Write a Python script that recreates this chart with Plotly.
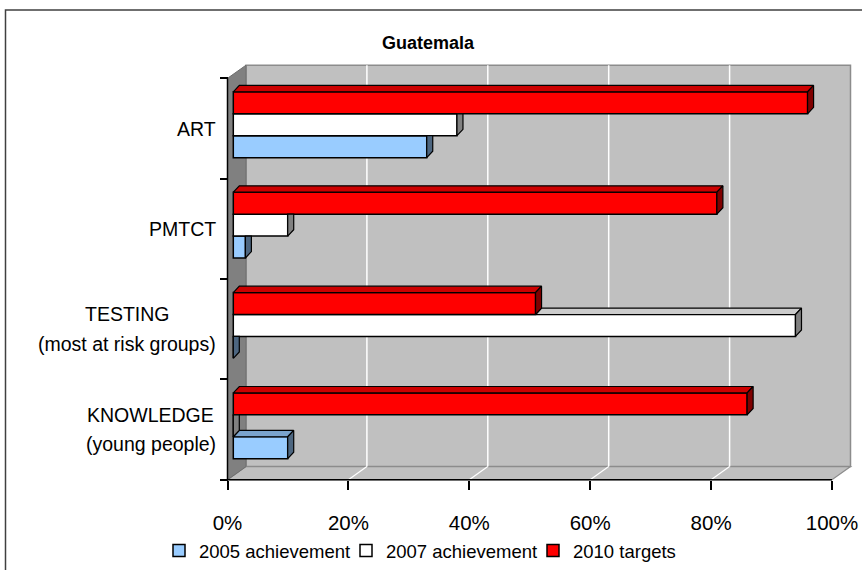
import plotly.graph_objects as go

# ---------------- data ----------------
categories = ["ART", "PMTCT", "TESTING<br>(most at risk groups)", "KNOWLEDGE<br>(young people)"]
series_names = ["2005 achievement", "2007 achievement", "2010 targets"]
achievement_2005 = [32, 2, 0, 9]
achievement_2007 = [37, 9, 93, 0]
targets_2010 = [95, 80, 50, 85]
x_tick_values = [0, 20, 40, 60, 80, 100]
x_tick_labels = ["0%", "20%", "40%", "60%", "80%", "100%"]
chart_title = "Guatemala"

series_values = [achievement_2005, achievement_2007, targets_2010]
front_colors = ["#99CCFF", "#FFFFFF", "#FF0000"]
top_colors = ["#7AA3CC", "#CCCCCC", "#CC0000"]
side_colors = ["#4D6680", "#808080", "#800000"]

# ---------------- geometry (pixel calibration of the 3-D frame) ----------------
W, H = 862, 570
X0, SX = 227.5, 6.045      # px of 0 % on the front plane, px per 1 %
YB, SY = 485.7, 101.6      # px of the front floor edge, px per category band


def px_x(p):
    return (p - X0) / SX


def px_y(p):
    return -0.5 + (YB - p) / SY


x_range = [px_x(0), px_x(W)]
y_range = [px_y(H), px_y(0)]

WDX, WDY = 18.5 / SX, 13.3 / SY      # wall depth
BDX, BDY = 6.0 / SX, 6.5 / SY        # bar depth
BASE = (233.3 - X0) / SX             # bars start slightly behind the front plane
BH = 22.2 / SY                       # bar thickness
GSHIFT = 3.8 / SY                    # group shift due to depth

n = len(categories)
pos = [n - 1 - i for i in range(n)]
offsets = [GSHIFT + (k - 1.5) * BH for k in range(3)]

FONT = "Arial, Liberation Sans, sans-serif"

fig = go.Figure()

# front faces as real bars
for k, (name, vals) in enumerate(zip(series_names, series_values)):
    fig.add_trace(go.Bar(
        y=pos, x=vals, base=BASE, orientation="h", name=name,
        width=BH, offset=offsets[k],
        marker=dict(color=front_colors[k], line=dict(color="black", width=1.5)),
        hoverinfo="skip",
    ))


def face(xs, ys, color):
    fig.add_trace(go.Scatter(
        x=xs + [xs[0]], y=ys + [ys[0]], mode="lines", fill="toself",
        fillcolor=color, line=dict(color="black", width=1.2),
        hoverinfo="skip", showlegend=False,
    ))


# 3-D top and side faces derived from the values
for k in range(3):
    for i in range(n):
        v = series_values[k][i]
        x0, x1 = BASE, BASE + v
        yb = pos[i] + offsets[k]
        yt = yb + BH
        upper = series_values[k + 1][i] if k < 2 else None
        # top face (visible part only)
        start = x0 if upper is None else max(x0, BASE + upper)
        if x1 > start:
            face([start, x1, x1 + BDX, start + BDX], [yt, yt, yt + BDY, yt + BDY], top_colors[k])
        # side face
        if upper is not None and upper > v:
            face([x1, x1, x1 + BDX, x1 + BDX], [yb, yt, yt, yb + BDY], side_colors[k])
        else:
            face([x1, x1, x1 + BDX, x1 + BDX], [yb, yt, yt + BDY, yb + BDY], side_colors[k])

# ---------------- walls, floor, grid ----------------
shapes = []
y_lo, y_hi = -0.5, n - 0.5
x_max = x_tick_values[-1]
# back wall
shapes.append(dict(type="rect", xref="x", yref="y", x0=WDX, x1=x_max + WDX,
                   y0=y_lo + WDY, y1=y_hi + WDY, fillcolor="#C0C0C0",
                   line=dict(color="#8C8C8C", width=1.5), layer="below"))
# floor
shapes.append(dict(type="path", xref="x", yref="y",
                   path=f"M 0,{y_lo} L {x_max},{y_lo} L {x_max + WDX},{y_lo + WDY} L {WDX},{y_lo + WDY} Z",
                   fillcolor="#C0C0C0", line=dict(color="#8C8C8C", width=1.2), layer="below"))
# left wall
shapes.append(dict(type="path", xref="x", yref="y",
                   path=f"M 0,{y_lo} L 0,{y_hi} L {WDX},{y_hi + WDY} L {WDX},{y_lo + WDY} Z",
                   fillcolor="#808080", line=dict(color="#6E6E6E", width=1), layer="below"))
# gridlines on back wall and floor
for v in x_tick_values[1:-1]:
    shapes.append(dict(type="line", xref="x", yref="y", x0=v + WDX, x1=v + WDX,
                       y0=y_lo + WDY, y1=y_hi + WDY, line=dict(color="white", width=1.5), layer="below"))
    shapes.append(dict(type="line", xref="x", yref="y", x0=v, x1=v + WDX,
                       y0=y_lo, y1=y_lo + WDY, line=dict(color="white", width=1.2), layer="below"))
# axis lines
shapes.append(dict(type="line", xref="x", yref="y", x0=0, x1=0, y0=y_lo, y1=y_hi,
                   line=dict(color="black", width=1.5), layer="below"))
shapes.append(dict(type="line", xref="x", yref="y", x0=0, x1=x_max, y0=y_lo, y1=y_lo,
                   line=dict(color="black", width=1.5), layer="below"))
# outer chart frame
shapes.append(dict(type="rect", xref="paper", yref="paper", x0=5.5 / W, x1=1.02,
                   y0=-0.02, y1=1 - 10 / H, line=dict(color="#404040", width=1.5),
                   fillcolor="rgba(0,0,0,0)", layer="below"))

# ---------------- category labels ----------------
ARIAL_W = {" ": 278, "(": 333, ")": 333,
           "A": 667, "B": 667, "C": 722, "D": 722, "E": 667, "F": 611, "G": 778, "H": 722, "I": 278,
           "J": 500, "K": 667, "L": 556, "M": 833, "N": 722, "O": 778, "P": 667, "Q": 778, "R": 722,
           "S": 667, "T": 611, "U": 722, "V": 667, "W": 944, "X": 667, "Y": 667, "Z": 611,
           "a": 556, "b": 556, "c": 500, "d": 556, "e": 556, "f": 278, "g": 556, "h": 556, "i": 222,
           "j": 222, "k": 500, "l": 222, "m": 833, "n": 556, "o": 556, "p": 556, "q": 556, "r": 333,
           "s": 500, "t": 278, "u": 556, "v": 500, "w": 722, "x": 500, "y": 500, "z": 500}
LABEL_SIZE = 19.5
LABEL_RIGHT_PX = 216
LINE_PX = 30


def text_w(s, size):
    return sum(ARIAL_W.get(c, 556) for c in s) / 1000 * size


annotations = []
for i, cat in enumerate(categories):
    lines = cat.split("<br>")
    block_w = max(text_w(l, LABEL_SIZE) for l in lines)
    cx = px_x(LABEL_RIGHT_PX - block_w / 2)
    for j, line in enumerate(lines):
        dy_px = (j - (len(lines) - 1) / 2) * LINE_PX
        annotations.append(dict(x=cx, y=pos[i] - dy_px / SY, xref="x", yref="y",
                                text=line, showarrow=False, xanchor="center", yanchor="middle",
                                font=dict(family=FONT, size=LABEL_SIZE, color="black")))

annotations.append(dict(x=428 / W, y=1 - 44 / H, xref="paper", yref="paper",
                        text=f"<b>{chart_title}</b>", showarrow=False,
                        xanchor="center", yanchor="middle",
                        font=dict(family=FONT, size=18, color="black")))

fig.update_layout(
    width=W, height=H,
    margin=dict(l=0, r=0, t=0, b=0),
    paper_bgcolor="white", plot_bgcolor="rgba(0,0,0,0)",
    barmode="overlay",
    showlegend=True,
    legend=dict(orientation="h", x=159 / W, y=1 - 558 / H, xanchor="left", yanchor="middle",
                font=dict(family=FONT, size=18.5, color="black"), bgcolor="rgba(0,0,0,0)",
                itemwidth=30, entrywidth=142, entrywidthmode="pixels", traceorder="normal"),
    xaxis=dict(range=x_range, anchor="free", position=(H - YB) / H,
               tickvals=x_tick_values, ticktext=x_tick_labels,
               ticks="outside", ticklen=9, tickwidth=1.5, tickcolor="black",
               ticklabelstandoff=16,
               tickfont=dict(family=FONT, size=20.5, color="black"),
               showgrid=False, zeroline=False, showline=False, fixedrange=True),
    yaxis=dict(range=y_range, anchor="free", position=X0 / W,
               tickvals=[p - 0.5 for p in range(n + 1)], showticklabels=False,
               ticks="outside", ticklen=7.5, tickwidth=1.5, tickcolor="black",
               showgrid=False, zeroline=False, showline=False, fixedrange=True),
    shapes=shapes,
    annotations=annotations,
    font=dict(family=FONT, color="black"),
)

fig.write_html("out.html", config={"displayModeBar": False},
               post_script="document.body.style.margin='0';document.body.style.overflow='hidden';")
